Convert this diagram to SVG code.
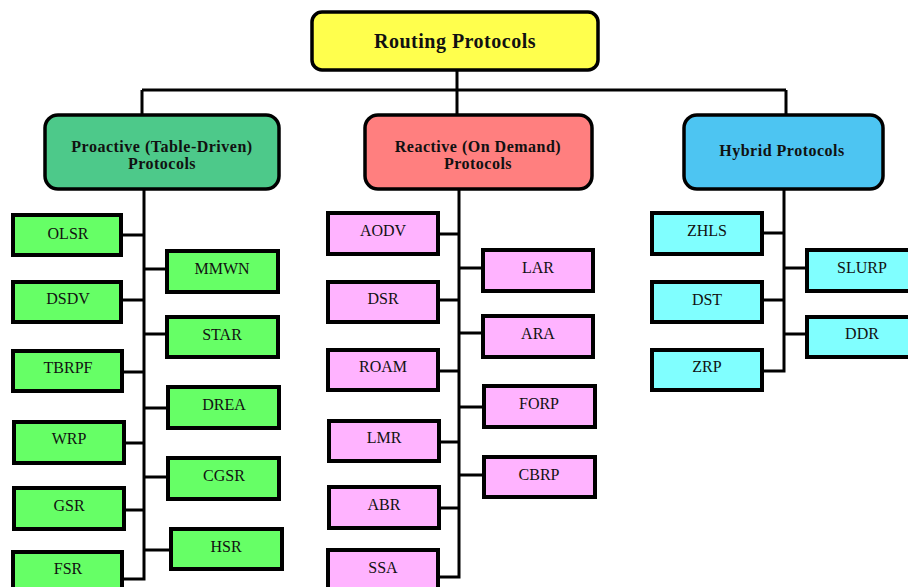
<svg xmlns="http://www.w3.org/2000/svg" width="908" height="587" viewBox="0 0 908 587">
<style>
.cat{stroke:#000;stroke-width:3.5}
.leaf{stroke:#000;stroke-width:4}
.g{fill:#66FF66}.p{fill:#FFB3FF}.c{fill:#80FFFF}
.t{font-family:"Liberation Serif",serif;font-size:16px;text-anchor:middle;fill:#111}
.b{font-family:"Liberation Serif",serif;font-weight:bold;text-anchor:middle;fill:#111}
.s{font-size:16px;letter-spacing:0.5px}
.ln{stroke:#000;stroke-width:3;fill:none}
</style>
<rect width="908" height="587" fill="#fff"/>
<g id="connectors">
<path class="ln" d="M457 70V90M142 90H786M142 90V115M457 90V115M786 90V115"/>
<path class="ln" d="M144 189V579H122M122 235H144M144 269H167M122 300H144M144 334H167M122 372H144M144 408H168M124 443H144M144 477H168M124 510H144M144 550H171"/>
<path class="ln" d="M459 189V577H438M438 234H459M459 268H483M438 300H459M459 333H482M438 371H459M459 407H483M439 442H459M459 475H483M439 508H459"/>
<path class="ln" d="M784 189V371H762M762 233H784M784 268H807M762 300H784M784 334H807"/>
</g>
<g id="root"><rect class="cat" x="312" y="12" width="286" height="58" rx="10" fill="#FFFF4D"/><text class="b" x="455" y="48" font-size="20" letter-spacing="0.5">Routing Protocols</text></g>
<g id="proactive"><rect class="cat" x="45" y="115" width="234" height="74" rx="13" fill="#4DC98A"/><text class="b s" x="162" y="152">Proactive (Table-Driven)</text><text class="b s" x="162" y="169">Protocols</text></g>
<g id="reactive"><rect class="cat" x="365" y="115" width="227" height="74" rx="13" fill="#FF7F7F"/><text class="b s" x="478" y="152">Reactive (On Demand)</text><text class="b s" x="478" y="169">Protocols</text></g>
<g id="hybrid"><rect class="cat" x="684" y="115" width="199" height="74" rx="13" fill="#4DC5F2"/><text class="b s" x="782" y="156">Hybrid Protocols</text></g>
<g id="olsr"><rect class="leaf g" x="13" y="215" width="108" height="40"/><text class="t" x="68" y="239">OLSR</text></g>
<g id="dsdv"><rect class="leaf g" x="13" y="282" width="108" height="40"/><text class="t" x="68" y="304">DSDV</text></g>
<g id="tbrpf"><rect class="leaf g" x="13" y="351" width="109" height="40"/><text class="t" x="68" y="373">TBRPF</text></g>
<g id="wrp"><rect class="leaf g" x="14" y="422" width="110" height="41"/><text class="t" x="69" y="444">WRP</text></g>
<g id="gsr"><rect class="leaf g" x="14" y="488" width="110" height="41"/><text class="t" x="69" y="511">GSR</text></g>
<g id="fsr"><rect class="leaf g" x="13" y="552" width="109" height="40"/><text class="t" x="68" y="574">FSR</text></g>
<g id="mmwn"><rect class="leaf g" x="167" y="251" width="111" height="41"/><text class="t" x="222" y="274">MMWN</text></g>
<g id="star"><rect class="leaf g" x="167" y="317" width="111" height="40"/><text class="t" x="222" y="340">STAR</text></g>
<g id="drea"><rect class="leaf g" x="168" y="387" width="111" height="41"/><text class="t" x="224" y="410">DREA</text></g>
<g id="cgsr"><rect class="leaf g" x="168" y="458" width="111" height="41"/><text class="t" x="224" y="481">CGSR</text></g>
<g id="hsr"><rect class="leaf g" x="171" y="529" width="111" height="40"/><text class="t" x="226" y="552">HSR</text></g>
<g id="aodv"><rect class="leaf p" x="328" y="213" width="110" height="41"/><text class="t" x="383" y="236">AODV</text></g>
<g id="dsr"><rect class="leaf p" x="328" y="282" width="110" height="40"/><text class="t" x="383" y="304">DSR</text></g>
<g id="roam"><rect class="leaf p" x="328" y="350" width="110" height="40"/><text class="t" x="383" y="372">ROAM</text></g>
<g id="lmr"><rect class="leaf p" x="329" y="421" width="110" height="40"/><text class="t" x="384" y="443">LMR</text></g>
<g id="abr"><rect class="leaf p" x="329" y="487" width="110" height="41"/><text class="t" x="384" y="510">ABR</text></g>
<g id="ssa"><rect class="leaf p" x="328" y="550" width="110" height="42"/><text class="t" x="383" y="573">SSA</text></g>
<g id="lar"><rect class="leaf p" x="483" y="250" width="110" height="41"/><text class="t" x="538" y="273">LAR</text></g>
<g id="ara"><rect class="leaf p" x="483" y="316" width="110" height="41"/><text class="t" x="538" y="339">ARA</text></g>
<g id="forp"><rect class="leaf p" x="484" y="386" width="111" height="41"/><text class="t" x="539" y="409">FORP</text></g>
<g id="cbrp"><rect class="leaf p" x="484" y="457" width="111" height="40"/><text class="t" x="539" y="480">CBRP</text></g>
<g id="zhls"><rect class="leaf c" x="652" y="213" width="110" height="41"/><text class="t" x="707" y="236">ZHLS</text></g>
<g id="dst"><rect class="leaf c" x="652" y="282" width="110" height="40"/><text class="t" x="707" y="305">DST</text></g>
<g id="zrp"><rect class="leaf c" x="652" y="350" width="110" height="40"/><text class="t" x="707" y="372">ZRP</text></g>
<g id="slurp"><rect class="leaf c" x="807" y="250" width="110" height="41"/><text class="t" x="862" y="273">SLURP</text></g>
<g id="ddr"><rect class="leaf c" x="807" y="317" width="110" height="40"/><text class="t" x="862" y="339">DDR</text></g>
</svg>
